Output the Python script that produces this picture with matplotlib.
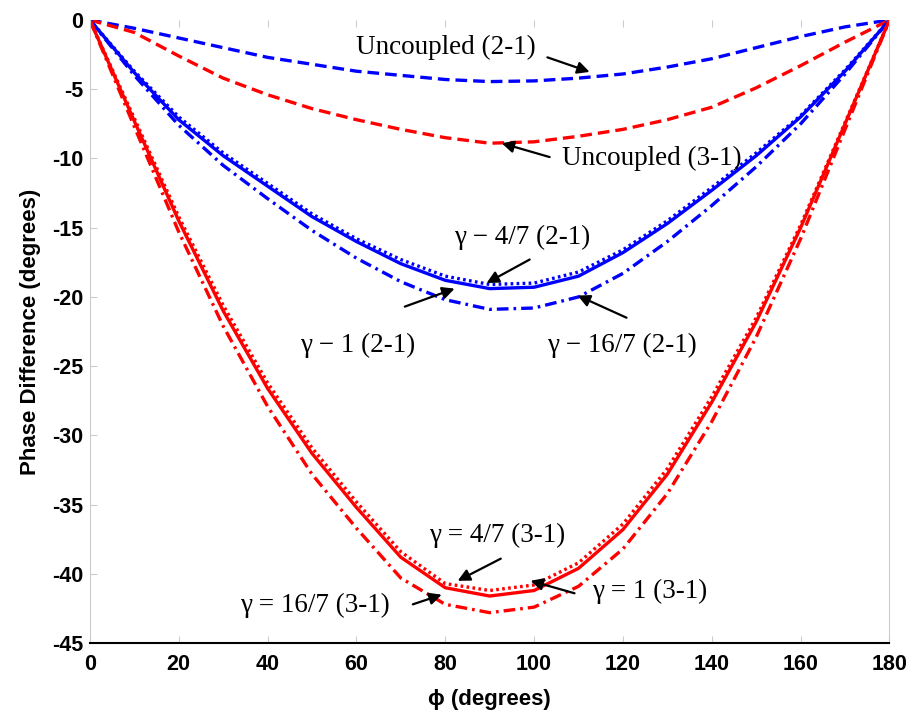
import matplotlib
matplotlib.use("Agg")
import matplotlib.pyplot as plt

phi = [0, 10, 20, 30, 40, 50, 60, 70, 80, 90, 100, 110, 120, 130, 140, 150, 160, 170, 180]

unc_21 = [0, -0.6, -1.3, -2.0, -2.7, -3.2, -3.7, -4.0, -4.3, -4.45, -4.4, -4.2, -3.9, -3.4, -2.8, -2.0, -1.2, -0.5, 0]
unc_31 = [0, -0.9, -2.6, -4.2, -5.4, -6.4, -7.2, -7.9, -8.5, -8.9, -8.8, -8.4, -7.9, -7.2, -6.3, -4.9, -3.3, -1.6, 0]

g1_21 = [0, -3.8, -7.2, -9.8, -12.0, -14.2, -16.0, -17.6, -18.8, -19.4, -19.3, -18.5, -16.8, -14.7, -12.3, -9.8, -7.0, -3.7, 0]
g47_21 = [0, -3.7, -7.0, -9.6, -11.8, -14.0, -15.8, -17.3, -18.5, -19.1, -19.0, -18.2, -16.6, -14.5, -12.1, -9.6, -6.9, -3.6, 0]
g167_21 = [0, -4.0, -7.6, -10.5, -12.9, -15.2, -17.2, -18.9, -20.2, -20.9, -20.8, -20.0, -18.3, -16.0, -13.4, -10.6, -7.5, -3.9, 0]

g1_31 = [0, -7.3, -14.5, -21.0, -26.6, -31.3, -35.2, -38.8, -41.0, -41.6, -41.2, -39.6, -36.8, -32.8, -27.6, -21.8, -15.0, -7.5, 0]
g47_31 = [0, -7.1, -14.2, -20.6, -26.2, -30.9, -34.8, -38.4, -40.7, -41.2, -40.8, -39.2, -36.4, -32.4, -27.2, -21.5, -14.8, -7.4, 0]
g167_31 = [0, -7.7, -15.3, -22.1, -27.9, -32.8, -36.7, -40.3, -42.2, -42.8, -42.4, -40.9, -38.2, -34.2, -29.0, -22.9, -15.8, -7.9, 0]

xticks = [0, 20, 40, 60, 80, 100, 120, 140, 160, 180]
yticks = [0, -5, -10, -15, -20, -25, -30, -35, -40, -45]

fig = plt.figure(figsize=(9.17, 7.13), dpi=100)
ax = fig.add_axes([0.098, 0.098, 0.872, 0.874])

lw = 2.4
ax.plot(phi, unc_21, color='#0000ff', ls=(0, (3.5, 1.8)), lw=lw)
ax.plot(phi, unc_31, color='#ff0000', ls=(0, (3.5, 1.8)), lw=lw)
ax.plot(phi, g1_21, color='#0000ff', ls='-', lw=lw)
ax.plot(phi, g47_21, color='#0000ff', ls=(0, (0.8, 1.0)), lw=lw)
ax.plot(phi, g167_21, color='#0000ff', ls=(0, (3.5, 1.5, 0.8, 1.5)), lw=lw)
ax.plot(phi, g1_31, color='#ff0000', ls='-', lw=lw)
ax.plot(phi, g47_31, color='#ff0000', ls=(0, (0.8, 1.0)), lw=lw)
ax.plot(phi, g167_31, color='#ff0000', ls=(0, (3.5, 1.5, 0.8, 1.5)), lw=lw)

ax.set_xlim(0, 180)
ax.set_ylim(-45, 0)
ax.set_xticks(xticks)
ax.set_yticks(yticks)
tickfont = dict(family='Liberation Sans', weight='bold', size=15.5)
ax.set_xticklabels([str(v) for v in xticks], fontdict=tickfont)
ax.set_yticklabels([str(v) for v in yticks], fontdict=tickfont)
ax.tick_params(axis='x', direction='in', length=5, color='#cccccc', top=True, pad=8)
ax.tick_params(axis='y', direction='in', length=5, color='#cccccc', right=False, pad=5)
ax.spines['top'].set_visible(False)
ax.spines['left'].set_color('#cccccc')
ax.spines['right'].set_color('#cccccc')
ax.spines['bottom'].set_color('black')
ax.spines['bottom'].set_linewidth(1.5)

labfont = dict(family='Liberation Sans', weight='bold', size=16)
ax.set_xlabel('ϕ (degrees)', fontdict=labfont, labelpad=10)
ax.set_ylabel('Phase Difference (degrees)', fontdict=labfont, labelpad=8)

serif = dict(family='Liberation Serif', size=19.5)
arrow = dict(arrowstyle='-|>', color='black', lw=1.6, mutation_scale=18, shrinkA=0, shrinkB=0)

def note(text, txy, tail, head):
    ax.text(txy[0], txy[1], text, ha='center', va='center', fontdict=serif)
    ax.annotate('', xy=head, xytext=tail, arrowprops=arrow)

note('Uncoupled (2-1)', (80.1, -2.0), (103, -2.7), (112.5, -3.75))
note('Uncoupled (3-1)', (126.5, -10.0), (103.5, -9.9), (92.7, -8.9))
note('γ − 4/7 (2-1)', (97.2, -15.7), (99, -17.3), (89.3, -19.0))
note('γ − 1 (2-1)', (60.3, -23.5), (70.9, -20.7), (82.1, -19.4))
note('γ − 16/7 (2-1)', (119.7, -23.5), (120.8, -21.5), (109.8, -19.9))
note('γ = 4/7 (3-1)', (91.6, -37.2), (92.5, -38.9), (82.8, -40.5))
note('γ = 16/7 (3-1)', (50.6, -42.3), (72.7, -42.2), (79.2, -41.5))
note('γ = 1 (3-1)', (126.0, -41.3), (109.1, -41.4), (99.2, -40.5))

fig.savefig('out.png', dpi=100)
